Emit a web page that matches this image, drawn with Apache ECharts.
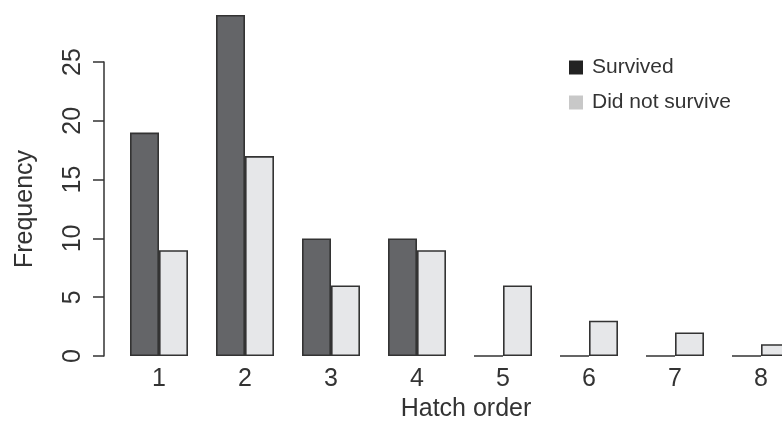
<!DOCTYPE html>
<html>
<head>
<meta charset="utf-8">
<script src="https://cdn.jsdelivr.net/npm/echarts@6/dist/echarts.min.js"></script>
<style>html,body{margin:0;padding:0;background:#fff}#c{width:782px;height:430px}</style>
</head>
<body>
<div id="c"></div>
<script>
const categories = ['1','2','3','4','5','6','7','8'];
const survived = [19, 29, 10, 10, 0, 0, 0, 0];
const didNotSurvive = [9, 17, 6, 9, 6, 3, 2, 1];
const yTicks = [0, 5, 10, 15, 20, 25];

const chart = echarts.init(document.getElementById('c'));
const FONT = 'Liberation Sans, Arial, sans-serif';
const TXT = '#333';
chart.setOption({
  animation: false,
  backgroundColor: '#fff',
  textStyle: { fontFamily: FONT },
  legend: {
    orient: 'vertical',
    left: 569,
    top: 57,
    padding: 0,
    icon: 'rect',
    itemWidth: 14,
    itemHeight: 14,
    itemGap: 14,
    textStyle: { fontSize: 21, color: TXT, fontFamily: FONT, padding: [0, 0, 0, 4] },
    data: [
      { name: 'Survived', itemStyle: { color: '#222', borderWidth: 0 } },
      { name: 'Did not survive', itemStyle: { color: '#c8c8c8', borderWidth: 0 } }
    ]
  },
  grid: { left: 116, top: 62, width: 688, bottom: 74, containLabel: false, outerBoundsMode: 'none' },
  xAxis: {
    type: 'category',
    data: categories,
    axisLine: { show: false },
    axisTick: { show: false },
    axisLabel: { fontSize: 25, color: TXT, margin: 11, fontFamily: FONT },
    name: 'Hatch order',
    nameLocation: 'middle',
    nameGap: 40,
    nameTextStyle: { fontSize: 25, color: TXT, fontFamily: FONT, padding: [0, 0, 0, 12] }
  },
  yAxis: {
    type: 'value',
    min: 0,
    max: 25,
    interval: 5,
    offset: 12,
    splitLine: { show: false },
    axisLine: { show: true, lineStyle: { color: TXT, width: 1.5 } },
    axisTick: { show: true, length: 11, lineStyle: { color: TXT, width: 1.5 } },
    axisLabel: {
      fontSize: 25, color: TXT, rotate: 90, margin: 18, fontFamily: FONT,
      formatter: v => yTicks.includes(v) ? String(v) : ''
    },
    name: 'Frequency',
    nameLocation: 'middle',
    nameGap: 66,
    nameRotate: 90,
    nameTextStyle: { fontSize: 25, color: TXT, fontFamily: FONT }
  },
  series: [
    {
      name: 'Survived', type: 'bar', data: survived,
      barWidth: 29, barGap: '0%', clip: false,
      itemStyle: { color: '#646568', borderColor: '#333', borderWidth: 1.6 }
    },
    {
      name: 'Did not survive', type: 'bar', data: didNotSurvive,
      barWidth: 29, barGap: '0%', clip: false,
      itemStyle: { color: '#e6e7e9', borderColor: '#333', borderWidth: 1.6 }
    }
  ]
});
</script>
</body>
</html>
